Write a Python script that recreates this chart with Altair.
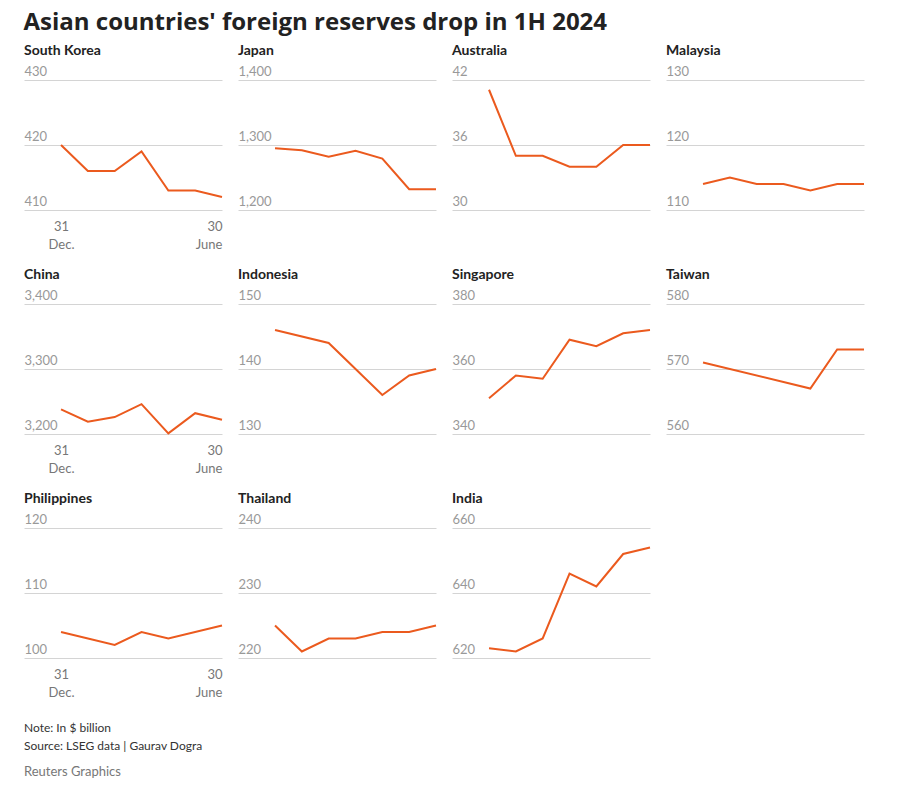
import altair as alt
import pandas as pd

# ---- data (US$ billion), month-end points: 0 = 31 Dec ... 6 = 30 June ----
countries = ["South Korea", "Japan", "Australia", "Malaysia",
             "China", "Indonesia", "Singapore", "Taiwan",
             "Philippines", "Thailand", "India"]

south_korea_idx = [0, 1, 2, 3, 4, 5, 6]
south_korea = [420, 416, 416, 419, 413, 413, 412]
japan_idx = [0, 1, 2, 3, 4, 5, 6]
japan = [1295, 1292, 1282, 1291, 1279, 1232, 1232]
australia_idx = [0, 1, 2, 3, 4, 5, 6]
australia = [41.1, 35.0, 35.0, 34.0, 34.0, 36.0, 36.0]
malaysia_idx = [0, 1, 2, 3, 4, 5, 6]
malaysia = [114, 115, 114, 114, 113, 114, 114]
china_idx = [0, 1, 2, 3, 4, 5, 6]
china = [3238, 3219, 3226, 3246, 3201, 3232, 3222]
indonesia_idx = [0, 2, 4, 5, 6]
indonesia = [146, 144, 136, 139, 140]
singapore_idx = [0, 1, 2, 3, 4, 5, 6]
singapore = [351, 358, 357, 369, 367, 371, 372]
taiwan_idx = [0, 4, 5, 6]
taiwan = [571, 567, 573, 573]
philippines_idx = [0, 2, 3, 4, 6]
philippines = [104, 102, 104, 103, 105]
thailand_idx = [0, 1, 2, 3, 4, 5, 6]
thailand = [225, 221, 223, 223, 224, 224, 225]
india_idx = [0, 1, 2, 3, 4, 5, 6]
india = [623, 622, 626, 646, 642, 652, 654]

y_ticks = {
    "South Korea": [410, 420, 430],
    "Japan": [1200, 1300, 1400],
    "Australia": [30, 36, 42],
    "Malaysia": [110, 120, 130],
    "China": [3200, 3300, 3400],
    "Indonesia": [130, 140, 150],
    "Singapore": [340, 360, 380],
    "Taiwan": [560, 570, 580],
    "Philippines": [100, 110, 120],
    "Thailand": [220, 230, 240],
    "India": [620, 640, 660],
}

series = {
    "South Korea": (south_korea_idx, south_korea),
    "Japan": (japan_idx, japan),
    "Australia": (australia_idx, australia),
    "Malaysia": (malaysia_idx, malaysia),
    "China": (china_idx, china),
    "Indonesia": (indonesia_idx, indonesia),
    "Singapore": (singapore_idx, singapore),
    "Taiwan": (taiwan_idx, taiwan),
    "Philippines": (philippines_idx, philippines),
    "Thailand": (thailand_idx, thailand),
    "India": (india_idx, india),
}

x_tick_values = [0, 6]
x_tick_labels = ["['31', 'Dec.']", "['30', 'June']"]

title_text = "Asian countries' foreign reserves drop in 1H 2024"
note_text = "Note: In $ billion"
source_text = "Source: LSEG data | Gaurav Dogra"
credit_text = "Reuters Graphics"

FONT = "Lato"
TITLE_FONT = "Open Sans"
LINE_COLOR = "#eb5a1e"


def panel(name, show_x):
    idx, vals = series[name]
    ticks = y_ticks[name]
    df = pd.DataFrame({"i": idx, "v": vals})
    if show_x:
        xaxis = alt.Axis(
            values=x_tick_values,
            labelExpr=f"datum.value == 0 ? {x_tick_labels[0]} : {x_tick_labels[1]}",
            grid=False, domain=False, ticks=False, tickSize=0,
            labelFlush=True, labelPadding=10, labelLineHeight=18,
            labelFontSize=13, labelColor="#777", labelFont=FONT, title=None,
        )
    else:
        xaxis = None
    return (
        alt.Chart(df, title=alt.TitleParams(
            name, anchor="start", fontSize=14, fontWeight="bold",
            color="#222", font=FONT, offset=7))
        .mark_line(color=LINE_COLOR, strokeWidth=2)
        .encode(
            x=alt.X("i:Q", scale=alt.Scale(domain=[-1.38, 6], nice=False, zero=False),
                    axis=xaxis),
            y=alt.Y("v:Q", scale=alt.Scale(domain=[ticks[0], ticks[-1]], nice=False, zero=False),
                    axis=alt.Axis(values=ticks, grid=True, gridColor="#d4d4d4", gridWidth=1,
                                  domain=False, ticks=False, tickSize=0,
                                  labelAlign="left", labelBaseline="bottom",
                                  labelPadding=0, labelOffset=-2, labelFontSize=13,
                                  labelColor="#999", labelFont=FONT, format=",d",
                                  minExtent=0, title=None)),
        )
        .properties(width=198, height=130)
    )


rows = [countries[0:4], countries[4:8], countries[8:11]]
row_charts = [
    alt.hconcat(*[panel(c, j == 0) for j, c in enumerate(r)], spacing=10)
    for r in rows
]

footer = alt.layer(
    alt.Chart(pd.DataFrame({"t": [note_text]})).mark_text(
        align="left", baseline="middle", fontSize=12, color="#333", font=FONT
    ).encode(text="t:N", x=alt.value(0), y=alt.value(11.5)),
    alt.Chart(pd.DataFrame({"t": [source_text]})).mark_text(
        align="left", baseline="middle", fontSize=12, color="#333", font=FONT
    ).encode(text="t:N", x=alt.value(0), y=alt.value(29.5)),
    alt.Chart(pd.DataFrame({"t": [credit_text]})).mark_text(
        align="left", baseline="middle", fontSize=13, color="#777", font=FONT
    ).encode(text="t:N", x=alt.value(0), y=alt.value(55.5)),
).properties(width=300, height=64)

chart = alt.vconcat(
    *row_charts, footer,
    spacing=15,
    title=alt.TitleParams(title_text, anchor="start", fontSize=24, fontWeight="bold",
                          color="#222", font=TITLE_FONT, offset=9),
).properties(
    padding={"left": 15, "top": 2, "right": 0, "bottom": 0}
).configure(font=FONT).configure_view(stroke="transparent")

chart.save("out.html", embed_options={"renderer": "svg", "actions": False})
